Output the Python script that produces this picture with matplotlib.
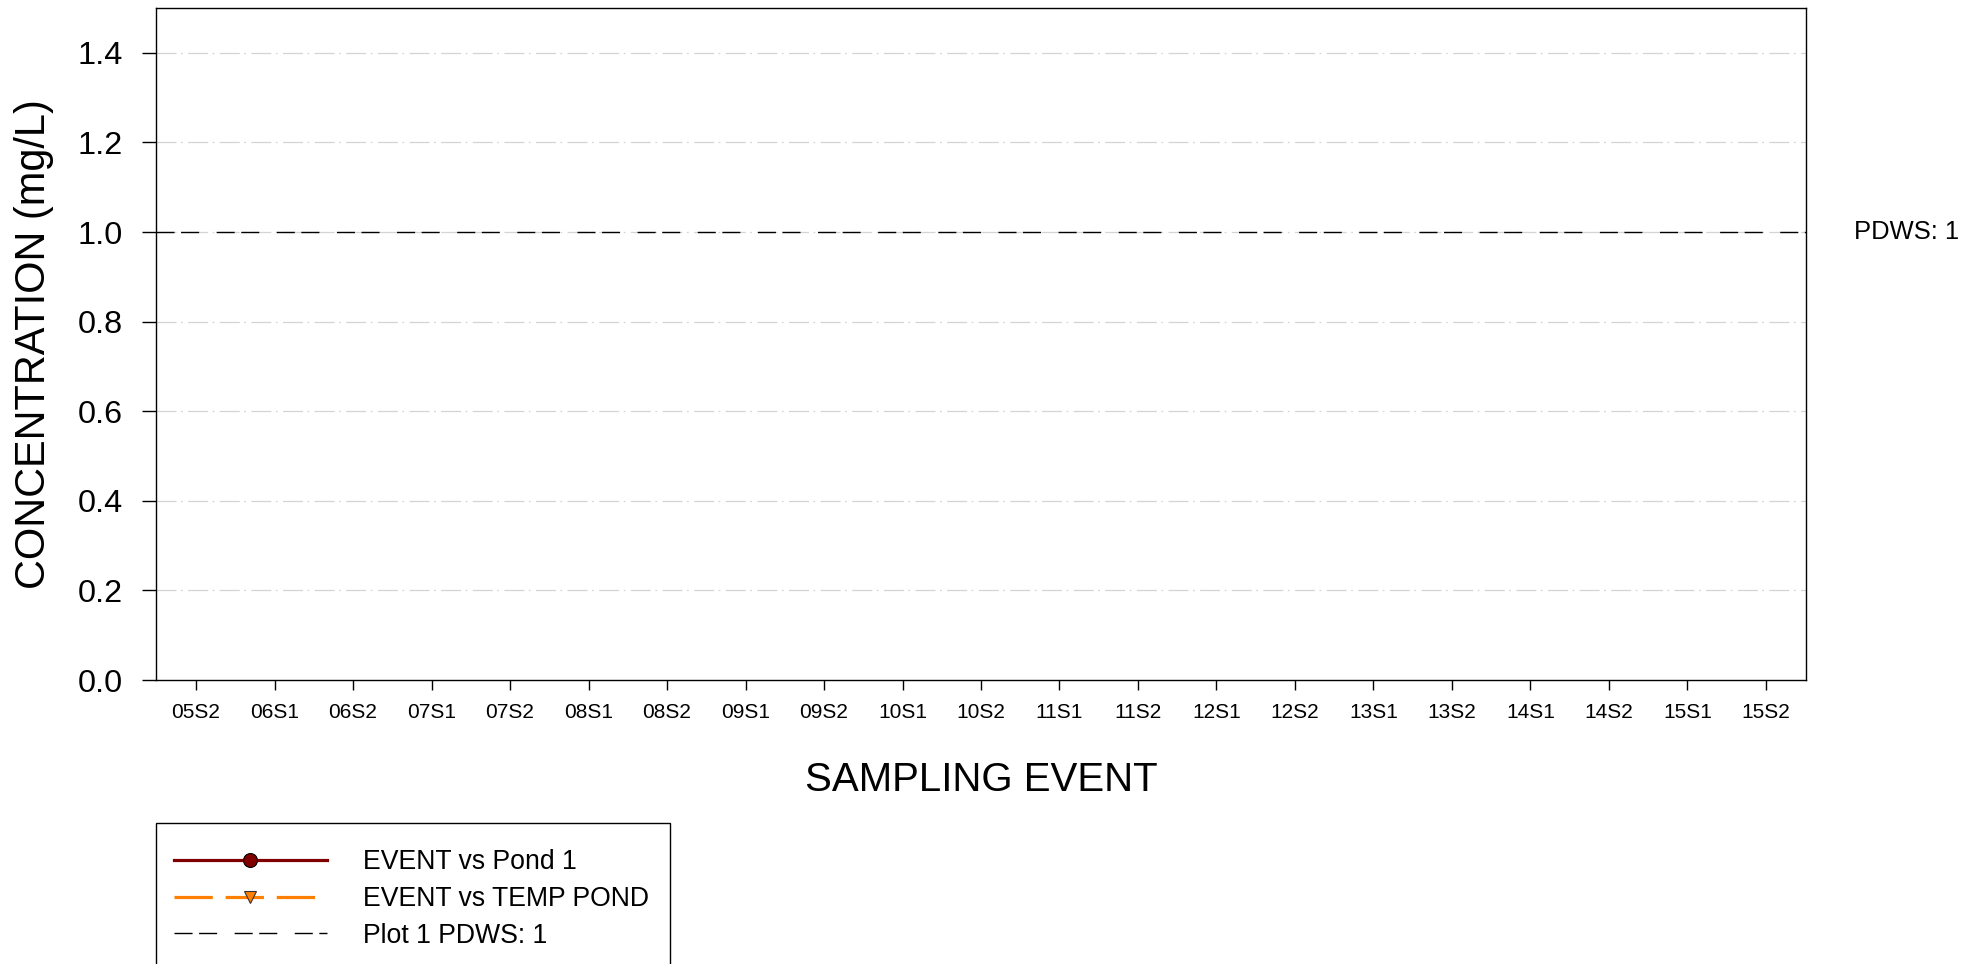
import numpy as np
import matplotlib
matplotlib.use('Agg')
import matplotlib.pyplot as plt
from matplotlib.patches import Rectangle

# sampling events on the x axis
events = ['05S2', '06S1', '06S2', '07S1', '07S2', '08S1', '08S2', '09S1', '09S2',
          '10S1', '10S2', '11S1', '11S2', '12S1', '12S2', '13S1', '13S2', '14S1',
          '14S2', '15S1', '15S2']

# concentrations (mg/L) - no detected values in either pond
pond1 = [np.nan, np.nan, np.nan, np.nan, np.nan, np.nan, np.nan, np.nan, np.nan, np.nan, np.nan,
         np.nan, np.nan, np.nan, np.nan, np.nan, np.nan, np.nan, np.nan, np.nan, np.nan]
temp_pond = [np.nan, np.nan, np.nan, np.nan, np.nan, np.nan, np.nan, np.nan, np.nan, np.nan, np.nan,
             np.nan, np.nan, np.nan, np.nan, np.nan, np.nan, np.nan, np.nan, np.nan, np.nan]

# drinking water standard
pdws = 1.0
y_ticks = [0.0, 0.2, 0.4, 0.6, 0.8, 1.0, 1.2, 1.4]

plt.rcParams['font.family'] = ['Liberation Sans', 'DejaVu Sans']

W, H = 1979, 964
fig = plt.figure(figsize=(W / 100, H / 100), dpi=100)
ax = fig.add_axes([156 / W, 1 - 680 / H, (1806 - 156) / W, (680 - 8) / H])

x = np.arange(len(events))

# horizontal grid lines (light gray dash-dot)
for yv in y_ticks[1:]:
    ax.axhline(yv, color='#d4d4d4', lw=0.9, linestyle=(0, (16, 3.6, 1.4, 4.3)), zorder=0)

ax.plot(x, pond1, color='#800000', lw=2.3, marker='o', markersize=10,
        markerfacecolor='#800000', markeredgecolor='black', markeredgewidth=0.8,
        label='EVENT vs Pond 1')
ax.plot(x, temp_pond, color='#ff8000', lw=2.3, linestyle=(0, (12, 4)), marker='v', markersize=9,
        markerfacecolor='#ff8000', markeredgecolor='#333333', markeredgewidth=0.8,
        label='EVENT vs TEMP POND')
ax.axhline(pdws, color='black', lw=1.0, linestyle=(0, (13, 4.7, 13, 12.6)),
           label='Plot 1 PDWS: ' + str(int(pdws)))
ax.text(1.029, pdws, 'PDWS: ' + str(int(pdws)), transform=ax.get_yaxis_transform(),
        fontsize=18.4, va='center', ha='left')

ax.set_xlim(-0.51, len(events) - 0.49)
ax.set_ylim(0, 1.5)
ax.set_xticks(x)
ax.set_xticklabels(events, fontsize=15)
ax.set_yticks(y_ticks)
ax.set_yticklabels(['%.1f' % v for v in y_ticks], fontsize=23.3)

ax.tick_params(axis='y', direction='out', length=10, width=1.0, pad=14)
ax.tick_params(axis='x', direction='out', length=7.2, width=1.0, pad=9)
for sp in ax.spines.values():
    sp.set_linewidth(1.0)
    sp.set_color('black')

ax.set_xlabel('SAMPLING EVENT', fontsize=29)
ax.xaxis.set_label_coords(0.5, -0.121)
ax.set_ylabel('CONCENTRATION (mg/L)', fontsize=29.9)
ax.yaxis.set_label_coords(-0.062, 0.5)

# legend entries, with its box drawn separately (box runs off the bottom edge)
leg = fig.legend(loc='upper left', bbox_to_anchor=(156 / W, 1 - 831.5 / H),
                 fontsize=19.2, frameon=False, handlelength=5.73, handletextpad=1.35,
                 labelspacing=0.40, borderpad=0.67, borderaxespad=0)
box = Rectangle((156 / W, -0.05), (670 - 156) / W, 0.05 + 1 - 823 / H,
                transform=fig.transFigure, fill=False, edgecolor='black', lw=1.0,
                clip_on=False)
fig.patches.append(box)

fig.savefig('out.png', dpi=100)
